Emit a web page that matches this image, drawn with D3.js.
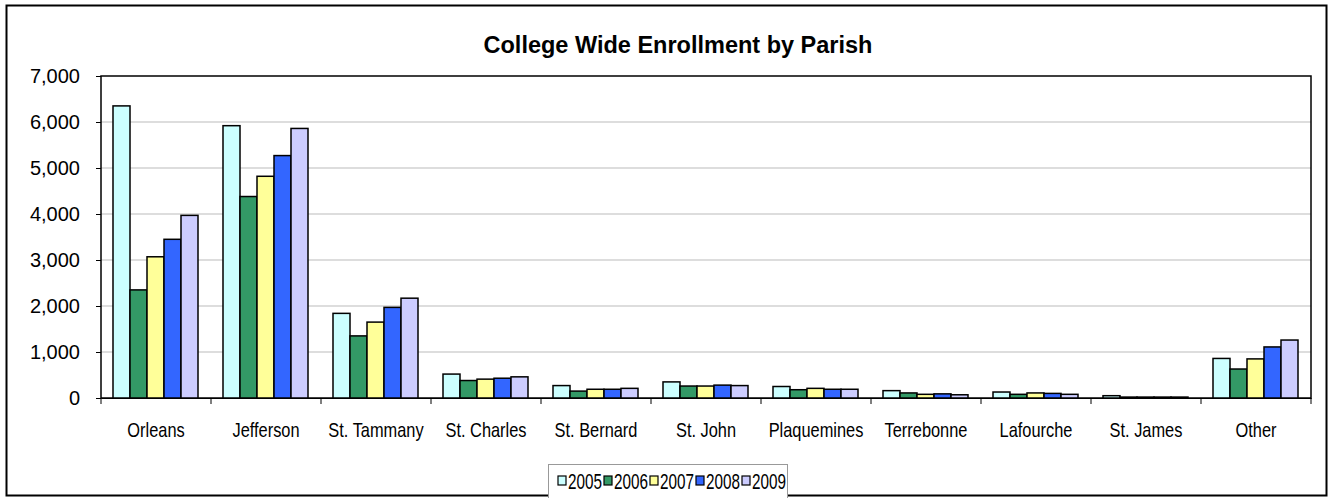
<!DOCTYPE html>
<html><head><meta charset="utf-8">
<script src="https://cdn.jsdelivr.net/npm/d3@7"></script>
<style>body{margin:0;background:#fff}svg{display:block}</style>
</head><body><svg id="c" width="1333" height="498"></svg>
<script>
const categories=["Orleans","Jefferson","St. Tammany","St. Charles","St. Bernard","St. John","Plaquemines","Terrebonne","Lafourche","St. James","Other"];
const years=["2005","2006","2007","2008","2009"];
const colors=["#ccffff","#339966","#ffff99","#3366ff","#ccccff"];
const v2005=[6350,5920,1840,520,270,350,250,160,130,50,860];
const v2006=[2350,4380,1350,380,150,260,180,110,80,20,630];
const v2007=[3070,4820,1650,410,190,260,210,80,110,20,850];
const v2008=[3450,5270,1970,430,190,280,190,90,100,20,1110];
const v2009=[3970,5860,2170,460,210,270,190,70,80,20,1260];
const series=[v2005,v2006,v2007,v2008,v2009];
const yTicks=[0,1000,2000,3000,4000,5000,6000,7000];
const F="Liberation Sans, Arial, sans-serif";
const svg=d3.select("#c");
svg.append("rect").attr("x",6.5).attr("y",5.5).attr("width",1320).attr("height",490).attr("fill","#fff").attr("stroke","#000").attr("stroke-width",2);
const L=101,R=1311,T=76,B=398;
const x=d3.scaleBand().domain(categories).range([L,R]);
const xi=d3.scaleBand().domain(years).range([12,x.bandwidth()-13]);
const y=d3.scaleLinear().domain([0,7000]).range([B,T]);
svg.append("text").attr("x",678).attr("y",53).attr("text-anchor","middle").style("font-family",F).style("font-weight","bold").style("font-size","23.5px").text("College Wide Enrollment by Parish");
svg.append("g").selectAll("line").data(yTicks.slice(1,-1)).join("line").attr("x1",L).attr("x2",R).attr("y1",d=>y(d)).attr("y2",d=>y(d)).attr("stroke","#bbb");
svg.append("rect").attr("x",L).attr("y",T).attr("width",R-L).attr("height",B-T).attr("fill","none").attr("stroke","#000").attr("stroke-width",1.5);
series.forEach((s,i)=>{
  svg.append("g").selectAll("rect").data(s).join("rect")
   .attr("x",(d,j)=>x(categories[j])+xi(years[i])).attr("width",xi.bandwidth())
   .attr("y",d=>y(d)).attr("height",d=>B-y(d)).attr("fill",colors[i]).attr("stroke","#000").attr("stroke-width",1.5);
});
const ya=svg.append("g").attr("transform",`translate(${L},0)`).call(d3.axisLeft(y).tickValues(yTicks).tickFormat(d3.format(",")).tickSize(5).tickPadding(16));
ya.select(".domain").remove();
ya.selectAll("text").style("font-family",F).style("font-size","20px").attr("fill","#000");
const xa=svg.append("g").attr("transform",`translate(0,${B})`).call(d3.axisBottom(x).tickSize(0).tickPadding(24));
xa.select(".domain").attr("stroke","#000");
xa.selectAll("text").style("font-family",F).style("font-size","21px").attr("fill","#000")
  .each(function(){const w=this.getComputedTextLength();d3.select(this).attr("textLength",w*0.78).attr("lengthAdjust","spacingAndGlyphs");});
svg.append("g").selectAll("line").data(d3.range(categories.length+1)).join("line")
 .attr("x1",d=>L+d*x.step()).attr("x2",d=>L+d*x.step()).attr("y1",B).attr("y2",B+6).attr("stroke","#000");
const lg=svg.append("g");
lg.append("rect").attr("x",548.5).attr("y",464.5).attr("width",239).attr("height",34).attr("fill","#fff").attr("stroke","#999");
years.forEach((yr,i)=>{
  const gx=558+i*46;
  lg.append("rect").attr("x",gx).attr("y",476).attr("width",8).attr("height",9).attr("fill",colors[i]).attr("stroke","#000").attr("stroke-width",1.2);
  lg.append("text").attr("x",gx+10).attr("y",489).style("font-family",F).style("font-size","22px").attr("textLength",34).attr("lengthAdjust","spacingAndGlyphs").text(yr);
});
</script></body></html>
